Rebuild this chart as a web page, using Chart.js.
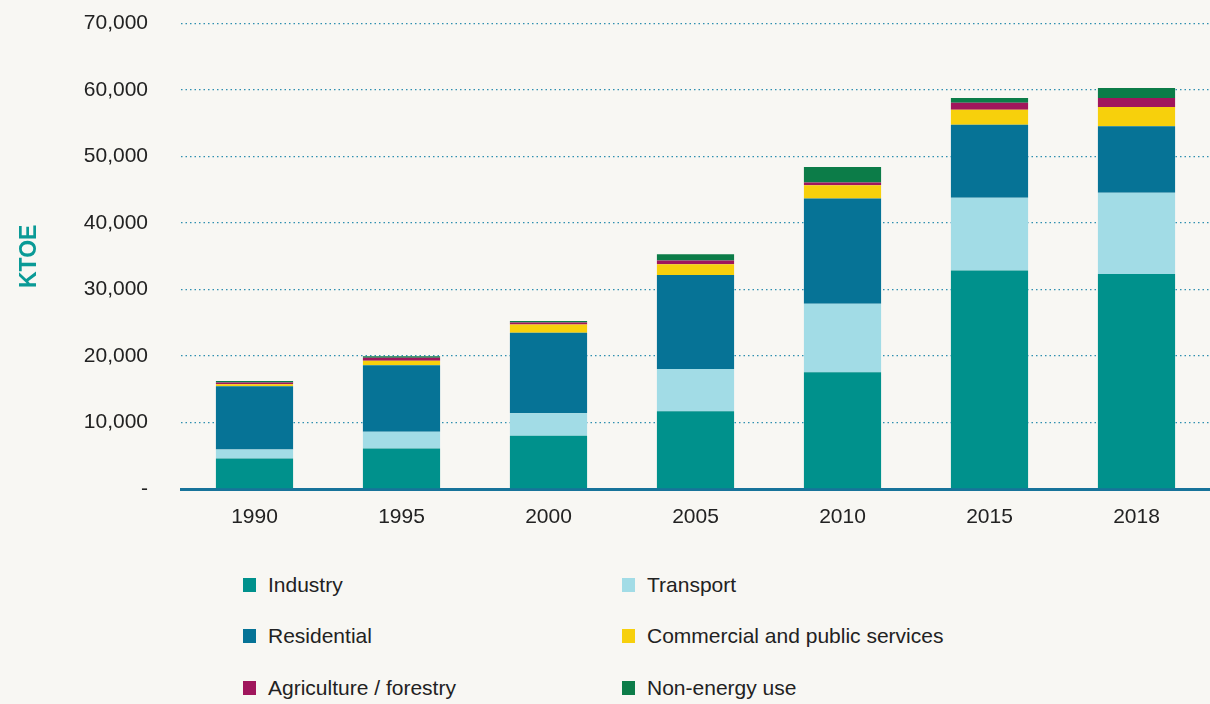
<!DOCTYPE html>
<html>
<head>
<meta charset="utf-8">
<script src="https://cdn.jsdelivr.net/npm/chart.js@4"></script>
<style>
  html, body { margin: 0; padding: 0; background: #f8f7f3; }
  #wrap { position: relative; width: 1210px; height: 704px; overflow: hidden; }
  #box { position: absolute; left: 0; top: -22px; width: 1210px; height: 562px; }
  .leg { position: absolute; font: 21px "Liberation Sans", Arial, sans-serif; color: #222; line-height: 24px; white-space: nowrap; }
  .leg i { position: absolute; left: -25px; top: 5px; width: 13px; height: 14px; }
</style>
</head>
<body>
<div id="wrap">
  <div id="box"><canvas id="energyChart"></canvas></div>
  <div id="legend"></div>
</div>
<script>
// years on the x axis
const years = ['1990', '1995', '2000', '2005', '2010', '2015', '2018'];

// final energy consumption by sector, ktoe
const industry    = [4600, 6100, 8000, 11700, 17550, 32850, 32350];
const transport   = [1350, 2500, 3400, 6350, 10300, 10950, 12200];
const residential = [9500, 10000, 12100, 14150, 15850, 11000, 10000];
const commercial  = [300, 700, 1250, 1600, 2000, 2250, 2900];
const agriculture = [250, 450, 300, 550, 400, 1050, 1350];
const nonEnergy   = [250, 200, 200, 950, 2350, 700, 1500];

const yTicks = [0, 10000, 20000, 30000, 40000, 50000, 60000, 70000];

const sectors = [
  { label: 'Industry', data: industry, color: '#00918c' },
  { label: 'Transport', data: transport, color: '#a2dce6' },
  { label: 'Residential', data: residential, color: '#067396' },
  { label: 'Commercial and public services', data: commercial, color: '#f7d00c' },
  { label: 'Agriculture / forestry', data: agriculture, color: '#a0165c' },
  { label: 'Non-energy use', data: nonEnergy, color: '#0c7c48' }
];

const fontFam = '"Liberation Sans", Arial, sans-serif';

const ctx = document.getElementById('energyChart').getContext('2d');
const chart = new Chart(ctx, {
  type: 'bar',
  data: {
    labels: years,
    datasets: sectors.map(s => ({
      label: s.label,
      data: s.data,
      backgroundColor: s.color,
      borderWidth: 0,
      barPercentage: 0.525,
      categoryPercentage: 1
    }))
  },
  options: {
    responsive: true,
    maintainAspectRatio: false,
    animation: false,
    layout: { padding: { top: 23, right: 0, left: 0, bottom: 0 } },
    plugins: {
      legend: { display: false },
      tooltip: { enabled: false }
    },
    scales: {
      x: {
        stacked: true,
        grid: { display: false, drawTicks: false },
        border: { display: true, color: '#17739a', width: 3 },
        ticks: { color: '#222', padding: 16, font: { family: fontFam, size: 21 } },
        afterFit: function(scale) { scale.height = 51; }
      },
      y: {
        stacked: true,
        min: 0,
        max: 70000,
        afterBuildTicks: function(scale) {
          scale.ticks = yTicks.map(v => ({ value: v }));
        },
        grid: {
          drawTicks: false,
          color: function(c) { return c.tick && c.tick.value === 0 ? 'rgba(0,0,0,0)' : '#2f8fb0'; },
          lineWidth: 1.3
        },
        border: { display: false, dash: [1.5, 3] },
        ticks: {
          color: '#222',
          padding: 33,
          font: { family: fontFam, size: 21 },
          callback: function(value) {
            return value === 0 ? '-' : value.toLocaleString('en-US');
          }
        },
        title: {
          display: true,
          text: 'KTOE',
          color: '#0a9a96',
          padding: { top: 16, bottom: 0 },
          font: { family: fontFam, size: 23, weight: 'bold' }
        },
        afterFit: function(scale) { scale.width = 181; }
      }
    }
  }
});

// two-column legend under the chart
const legend = document.getElementById('legend');
const colX = [268, 647];
const rowY = [573, 624, 676];
sectors.forEach((s, i) => {
  const el = document.createElement('div');
  el.className = 'leg';
  el.style.left = colX[i % 2] + 'px';
  el.style.top = rowY[Math.floor(i / 2)] + 'px';
  el.innerHTML = '<i style="background:' + s.color + '"></i>' + s.label;
  legend.appendChild(el);
});
</script>
</body>
</html>
